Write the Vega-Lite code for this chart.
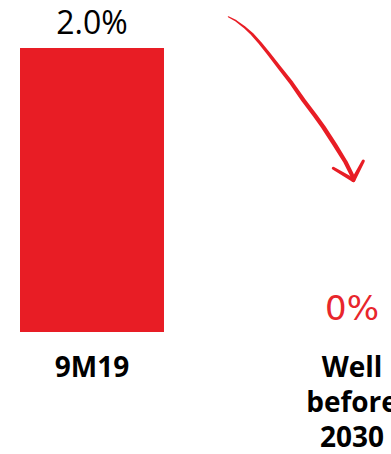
{
  "$schema": "https://vega.github.io/schema/vega-lite/v6.json",
  "width": 391,
  "height": 454,
  "autosize": "none",
  "padding": 0,
  "background": "white",
  "config": {"view": {"stroke": null}},
  "datasets": {
    "bars": [
      {"period": "9M19", "share": 2.0, "valueText": "2.0%"},
      {"period": "Well before 2030", "share": 0, "valueText": "0%"}
    ],
    "arrow": [
      {"u": 0.5242, "v": 2.2204, "w": 1.0, "ord": 1},
      {"u": 0.5538, "v": 2.1915, "w": 1.6, "ord": 2},
      {"u": 0.5846, "v": 2.1493, "w": 2.2, "ord": 3},
      {"u": 0.6154, "v": 2.0986, "w": 2.7, "ord": 4},
      {"u": 0.6462, "v": 2.0352, "w": 3.1, "ord": 5},
      {"u": 0.6781, "v": 1.9627, "w": 3.4, "ord": 6},
      {"u": 0.7231, "v": 1.8570, "w": 3.7, "ord": 7},
      {"u": 0.7681, "v": 1.7514, "w": 4.0, "ord": 8},
      {"u": 0.8127, "v": 1.6338, "w": 4.2, "ord": 9},
      {"u": 0.8577, "v": 1.5246, "w": 4.3, "ord": 10},
      {"u": 0.8896, "v": 1.4437, "w": 4.4, "ord": 11},
      {"u": 0.9346, "v": 1.3169, "w": 4.4, "ord": 12},
      {"u": 0.9750, "v": 1.1972, "w": 4.2, "ord": 13},
      {"u": 1.0000, "v": 1.1056, "w": 4.0, "ord": 14},
      {"u": 1.0050, "v": 1.0704, "w": 3.2, "ord": 15}
    ],
    "head": [
      {"arm": "left", "u": 0.9281, "v": 1.1528, "w": 3.0, "ord": 1},
      {"arm": "left", "u": 1.005, "v": 1.0704, "w": 4.2, "ord": 2},
      {"arm": "right", "u": 1.0435, "v": 1.2042, "w": 3.0, "ord": 1},
      {"arm": "right", "u": 1.005, "v": 1.0704, "w": 4.2, "ord": 2}
    ]
  },
  "layer": [
    {
      "data": {"name": "bars"},
      "mark": {"type": "bar", "color": "#E81D25"},
      "encoding": {
        "x": {"field": "period", "type": "nominal", "axis": null,
              "scale": {"type": "band", "domain": ["9M19", "Well before 2030"], "range": [20, 424], "paddingInner": 0.4462, "paddingOuter": 0}},
        "y": {"field": "share", "type": "quantitative", "axis": null,
              "scale": {"domain": [-0.859, 2.338], "nice": false, "zero": false}},
        "y2": {"datum": 0}
      }
    },
    {
      "data": {"name": "bars"},
      "transform": [{"filter": "datum.share > 0"}],
      "mark": {"type": "text", "font": "Open Sans", "fontSize": 32, "color": "#000000", "baseline": "alphabetic", "dy": -14},
      "encoding": {
        "x": {"field": "period", "type": "nominal", "axis": null,
              "scale": {"type": "band", "domain": ["9M19", "Well before 2030"], "range": [20, 424], "paddingInner": 0.4462, "paddingOuter": 0}},
        "y": {"field": "share", "type": "quantitative"},
        "text": {"field": "valueText"}
      }
    },
    {
      "data": {"name": "bars"},
      "transform": [{"filter": "datum.share == 0"}],
      "mark": {"type": "text", "font": "DejaVu Sans", "fontSize": 34, "color": "#E8262C", "baseline": "alphabetic", "dy": -12},
      "encoding": {
        "x": {"field": "period", "type": "nominal", "axis": null,
              "scale": {"type": "band", "domain": ["9M19", "Well before 2030"], "range": [20, 424], "paddingInner": 0.4462, "paddingOuter": 0}},
        "y": {"field": "share", "type": "quantitative"},
        "text": {"field": "valueText"}
      }
    },
    {
      "data": {"name": "bars"},
      "mark": {"type": "text", "font": "Open Sans", "fontSize": 28, "fontWeight": "bold", "color": "#000000", "baseline": "alphabetic", "dy": 45, "lineBreak": " ", "lineHeight": 35},
      "encoding": {
        "x": {"field": "period", "type": "nominal", "axis": null,
              "scale": {"type": "band", "domain": ["9M19", "Well before 2030"], "range": [20, 424], "paddingInner": 0.4462, "paddingOuter": 0}},
        "y": {"datum": 0, "type": "quantitative"},
        "text": {"field": "period"}
      }
    },
    {
      "data": {"name": "arrow"},
      "mark": {"type": "trail", "color": "#E81D25"},
      "encoding": {
        "x": {"field": "u", "type": "quantitative", "axis": null,
              "scale": {"domain": [-0.3538, 1.15], "nice": false, "zero": false}},
        "y": {"field": "v", "type": "quantitative"},
        "size": {"field": "w", "type": "quantitative", "legend": null,
                 "scale": {"domain": [0, 5], "range": [0, 5], "zero": true}},
        "order": {"field": "ord"}
      }
    },
    {
      "data": {"name": "head"},
      "mark": {"type": "trail", "color": "#E81D25"},
      "encoding": {
        "x": {"field": "u", "type": "quantitative", "axis": null,
              "scale": {"domain": [-0.3538, 1.15], "nice": false, "zero": false}},
        "y": {"field": "v", "type": "quantitative"},
        "detail": {"field": "arm"},
        "size": {"field": "w", "type": "quantitative", "legend": null,
                 "scale": {"domain": [0, 5], "range": [0, 5], "zero": true}},
        "order": {"field": "ord"}
      }
    }
  ],
  "resolve": {"scale": {"x": "independent"}}
}
